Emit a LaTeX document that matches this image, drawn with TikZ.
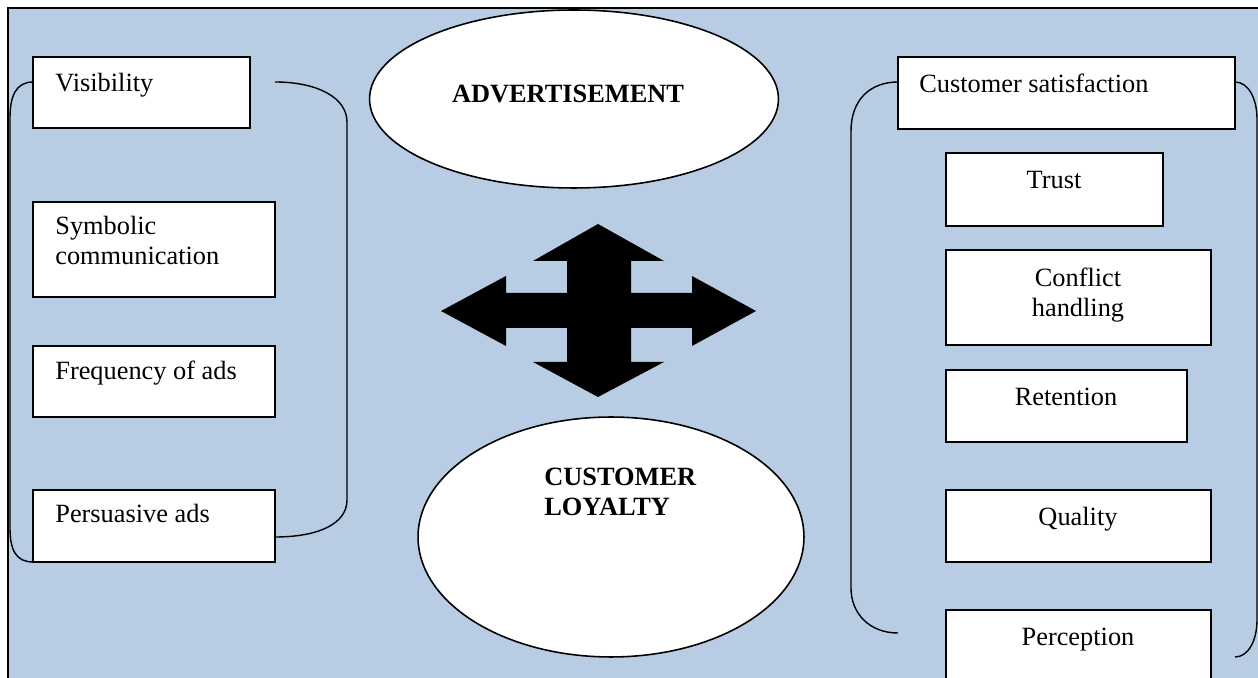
\documentclass[tikz,border=0pt]{standalone}
\usepackage{fontspec}
\setmainfont{Liberation Serif}
\usetikzlibrary{shapes.geometric,fit}
\definecolor{bgblue}{HTML}{B8CCE4}
\tikzset{
  boxnode/.style={draw, fill=white, line width=0.9pt, inner sep=0pt},
  ovalnode/.style={ellipse, draw, fill=white, line width=0.9pt, inner sep=0pt},
  txt/.style={inner sep=0pt, font=\fontsize{15}{17.2}\selectfont},
  boldtxt/.style={inner sep=0pt, font=\fontsize{15}{17.6}\selectfont\bfseries, align=left},
  brace/.style={line width=0.8pt},
}
\begin{document}
\begin{tikzpicture}[x=0.02cm, y=-0.02cm]
\useasboundingbox (0,0) rectangle (1258,678);
\clip (0,0) rectangle (1258,678);
% background frame
\filldraw[fill=bgblue, line width=1.1pt] (8,8) rectangle (1300,720);

% left boxes
\node[boxnode, fit={(33,57) (250,128)}] (vis) {};
\node[txt, anchor=base west] (visT) at (55,92) {Visibility};
\node[boxnode, fit={(33,202) (275,297)}] (sym) {};
\node[txt, anchor=base west, align=left] (symT) at (55,265) {Symbolic\\communication};
\node[boxnode, fit={(33,346) (275,417)}] (freq) {};
\node[txt, anchor=base west] (freqT) at (55,380) {Frequency of ads};
\node[boxnode, fit={(33,490) (275,562)}] (pers) {};
\node[txt, anchor=base west] (persT) at (55,523) {Persuasive ads};

% left bracket
\draw[brace] (33,82) .. controls (16,82) and (10,96) .. (10,118) -- (10,528) .. controls (10,550) and (16,562) .. (33,562);
\draw[brace] (275,82) .. controls (318,82) and (347,98) .. (347,122) -- (347,500) .. controls (347,524) and (318,537) .. (275,537);

% ellipses
\node[ovalnode, minimum width=8.18cm, minimum height=3.56cm] (adv) at (574,99) {};
\node[boldtxt, anchor=base] (advT) at (568,103) {ADVERTISEMENT};
\node[ovalnode, minimum width=7.72cm, minimum height=4.8cm] (loy) at (611,537) {};
\node[boldtxt, anchor=base west] (loyT) at (544,516) {CUSTOMER\\LOYALTY};

% four-way arrow
\fill (598,224) -- (664,261) -- (631,261) -- (631,293) -- (692,293) -- (692,276)
  -- (756,311) -- (692,346) -- (692,328) -- (631,328) -- (631,362) -- (664,362)
  -- (598,397) -- (533,362) -- (567,362) -- (567,328) -- (506,328) -- (506,346)
  -- (441,311) -- (506,276) -- (506,293) -- (567,293) -- (567,261) -- (533,261) -- cycle;

% right boxes
\node[boxnode, fit={(898,57) (1235,129)}] (cs) {};
\node[txt, anchor=base west] (csT) at (919,93) {Customer satisfaction};
\node[boxnode, fit={(946,153) (1163,226)}] (trust) {};
\node[txt, anchor=base] (trustT) at (1054,189) {Trust};
\node[boxnode, fit={(946,250) (1211,345)}] (conf) {};
\node[txt, anchor=base, align=center] (confT) at (1078,317) {Conflict\\handling};
\node[boxnode, fit={(946,370) (1187,442)}] (ret) {};
\node[txt, anchor=base] (retT) at (1066,406) {Retention};
\node[boxnode, fit={(946,490) (1211,562)}] (qual) {};
\node[txt, anchor=base] (qualT) at (1078,526) {Quality};
\node[boxnode, fit={(946,610) (1211,700)}] (perc) {};
\node[txt, anchor=base] (percT) at (1078,645) {Perception};

% right bracket
\draw[brace] (898,82) .. controls (870,82) and (851,100) .. (851,131) -- (851,588) .. controls (851,614) and (870,633) .. (898,633);
\draw[brace] (1235,82) .. controls (1248,82) and (1257,98) .. (1257,119) -- (1257,620) .. controls (1257,641) and (1248,657) .. (1235,657);
\end{tikzpicture}
\end{document}
